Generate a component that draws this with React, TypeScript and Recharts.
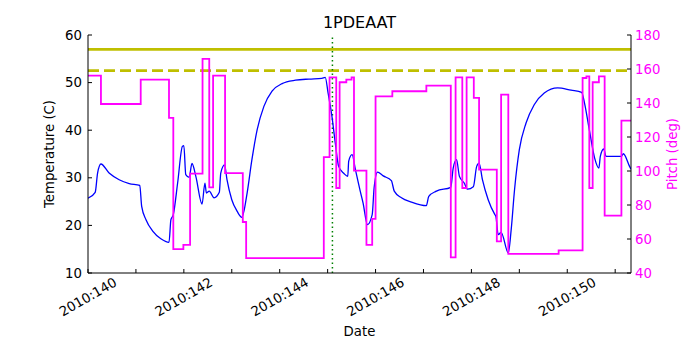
import React from 'react';
import { ComposedChart, Line, XAxis, YAxis, ReferenceLine } from 'recharts';

document.body.style.margin = '0';

// temperature (blue), day of year 2010
const tempDays = [
  140.0, 140.15, 140.2, 140.27, 140.44, 140.65, 140.86, 141.08, 141.12, 141.21, 141.35, 141.52, 141.69,
  141.73, 141.78, 141.87, 141.97, 142.0, 142.04, 142.11, 142.17, 142.25, 142.38, 142.44, 142.47, 142.53,
  142.63, 142.74, 142.77, 142.85, 142.9, 143.0, 143.11, 143.21, 143.32, 143.42, 143.53, 143.67, 143.84,
  144.05, 144.33, 144.61, 144.88, 144.95, 145.01, 145.09, 145.16, 145.23, 145.34, 145.42, 145.44, 145.51,
  145.58, 145.68, 145.74, 145.83, 145.93, 145.97, 146.04, 146.16, 146.33, 146.39, 146.54, 146.75, 147.06,
  147.11, 147.27, 147.57, 147.62, 147.69, 147.75, 147.85, 147.92, 148.04, 148.11, 148.16, 148.23, 148.35,
  148.49, 148.51, 148.56, 148.62, 148.77, 148.83, 148.9, 149.0, 149.14, 149.31, 149.52, 149.8, 150.08,
  150.3, 150.36, 150.46, 150.57, 150.66, 150.69, 150.76, 150.81, 151.13, 151.17, 151.3, 151.33,
];
const tempValues = [
  25.7, 26.95, 31.0, 32.9, 31.0, 29.6, 28.8, 28.4, 24.0, 21.2, 18.8, 17.2, 16.45,
  21.2, 22.25, 28.9, 36.6, 36.75, 30.65, 30.1, 33.0, 30.3, 24.5, 28.9, 26.8, 27.2,
  25.8, 26.95, 31.0, 32.7, 29.6, 25.4, 23.0, 21.7, 26.8, 33.8, 40.1, 45.0, 48.2,
  49.8, 50.5, 50.75, 50.9, 51.1, 47.8, 42.9, 37.3, 32.4, 30.9, 30.3, 33.5, 34.85,
  31.7, 27.2, 24.7, 20.15, 22.25, 27.9, 31.2, 30.4, 29.4, 27.2, 25.8, 24.9, 24.15,
  26.1, 27.2, 28.0, 32.05, 33.8, 30.3, 28.9, 27.6, 28.1, 32.4, 33.1, 29.6, 25.4,
  22.25, 21.9, 18.05, 18.55, 14.2, 19.1, 27.5, 35.9, 41.5, 45.35, 47.8, 48.9, 48.4,
  47.95, 45.7, 40.1, 34.2, 32.05, 34.5, 36.05, 34.5, 34.5, 35.05, 32.4, 31.8,
];

// pitch (magenta), stepped
const pitchDays = [
  140.0, 140.27, 141.1, 141.69, 141.78, 141.99, 142.13, 142.39, 142.53, 142.61, 142.86, 143.23, 143.3,
  144.92, 145.04, 145.18, 145.25, 145.39, 145.5, 145.55, 145.81, 145.93, 146.0, 146.35, 147.06, 147.57,
  147.67, 147.81, 147.9, 148.05, 148.16, 148.53, 148.62, 148.77, 149.82, 150.32, 150.4, 150.46, 150.53,
  150.66, 150.78, 151.13, 151.33,
];
const pitchValues = [
  156.1, 139.4, 153.7, 131.2, 54.1, 56.6, 98.4, 165.9, 90.4, 156.1, 98.8, 70, 48.8,
  108.2, 155.1, 90, 152.2, 153.7, 155.1, 100.2, 56.5, 71.8, 143.9, 146.9, 150.2, 49.2,
  155.1, 90, 155.1, 143, 100.8, 58.6, 144.9, 51.2, 53.3, 154.7, 155.7, 90, 152.2,
  155.7, 73.7, 129.6, 129.6,
];

const dayTicks = [140, 141, 142, 143, 144, 145, 146, 147, 148, 149, 150, 151];
const tempTicks = [10, 20, 30, 40, 50, 60];
const pitchTicks = [40, 60, 80, 100, 120, 140, 160, 180];

const tempData = tempDays.map((d, i) => ({ day: d, t: tempValues[i] }));
const pitchData = pitchDays.map((d, i) => ({ day: d, p: pitchValues[i] }));

const font = '"DejaVu Sans", sans-serif';
const fs = 13.3;

const LeftTick = ({ x, y, payload }: any) => (
  <g>
    <line x1={x} x2={x + 4} y1={y} y2={y} stroke="#000" />
    <text x={x - 6} y={y} textAnchor="end" dominantBaseline="central" fontSize={fs} fontFamily={font} fill="#000">
      {payload.value}
    </text>
  </g>
);

const RightTick = ({ x, y, payload }: any) => (
  <g>
    <line x1={x - 4} x2={x} y1={y} y2={y} stroke="#000" />
    <text x={x + 4} y={y} textAnchor="start" dominantBaseline="central" fontSize={fs} fontFamily={font} fill="#ff00ff">
      {payload.value}
    </text>
  </g>
);

const BottomTick = ({ x, y, payload }: any) => (
  <g>
    <line x1={x} x2={x} y1={y - 4} y2={y} stroke="#000" />
    {payload.value % 2 === 0 && (
      <text
        transform={`translate(${x},${y + 24}) rotate(-30)`}
        textAnchor="middle"
        dominantBaseline="central"
        fontSize={fs}
        fontFamily={font}
        fill="#000"
      >
        {'2010:' + payload.value}
      </text>
    )}
  </g>
);

const TopTick = ({ x, y }: any) => <line x1={x} x2={x} y1={y} y2={y + 4} stroke="#000" />;

const label = (left: number, top: number, text: string, extra: React.CSSProperties = {}) => (
  <div
    style={{
      position: 'absolute',
      left,
      top,
      transform: 'translate(-50%, -50%)',
      whiteSpace: 'nowrap',
      fontFamily: font,
      fontSize: fs,
      color: '#000',
      ...extra,
    }}
  >
    {text}
  </div>
);

export default function App() {
  return (
    <div style={{ position: 'relative', width: 700, height: 350, background: '#fff' }}>
      <ComposedChart width={700} height={350} margin={{ top: 35, right: 0, bottom: 0, left: 0 }}>
        <XAxis
          dataKey="day"
          type="number"
          domain={[140, 151.33]}
          allowDataOverflow
          ticks={dayTicks}
          interval={0}
          height={77}
          tickSize={0}
          tickMargin={0}
          tickLine={false}
          axisLine={{ stroke: '#000' }}
          tick={<BottomTick />}
        />
        <XAxis
          xAxisId="top"
          orientation="top"
          dataKey="day"
          type="number"
          domain={[140, 151.33]}
          allowDataOverflow
          ticks={dayTicks}
          interval={0}
          height={0}
          tickSize={0}
          tickMargin={0}
          tickLine={false}
          axisLine={{ stroke: '#000' }}
          tick={<TopTick />}
        />
        <YAxis
          yAxisId="temp"
          domain={[10, 60]}
          ticks={tempTicks}
          interval={0}
          width={88}
          tickSize={0}
          tickMargin={0}
          tickLine={false}
          axisLine={{ stroke: '#000' }}
          tick={<LeftTick />}
        />
        <YAxis
          yAxisId="pitch"
          orientation="right"
          domain={[40, 180]}
          ticks={pitchTicks}
          interval={0}
          width={69}
          tickSize={0}
          tickMargin={0}
          tickLine={false}
          axisLine={{ stroke: '#000' }}
          tick={<RightTick />}
        />
        <ReferenceLine yAxisId="temp" y={57} stroke="#bfbf00" strokeWidth={2.7} />
        <ReferenceLine yAxisId="temp" y={52.5} stroke="#bfbf00" strokeWidth={2.7} strokeDasharray="11 5" />
        <ReferenceLine yAxisId="temp" x={145.1} stroke="#008000" strokeWidth={1.5} strokeDasharray="1.5 3" />
        <Line
          yAxisId="temp"
          data={tempData}
          dataKey="t"
          type="monotoneX"
          stroke="#0000ff"
          strokeWidth={1.3}
          dot={false}
          isAnimationActive={false}
        />
        <Line
          yAxisId="pitch"
          data={pitchData}
          dataKey="p"
          type="stepAfter"
          stroke="#ff00ff"
          strokeWidth={1.8}
          dot={false}
          isAnimationActive={false}
        />
      </ComposedChart>
      {label(359.5, 22, '1PDEAAT', { fontSize: 16 })}
      {label(49.3, 154, 'Temperature (C)', { transform: 'translate(-50%, -50%) rotate(-90deg)' })}
      {label(671.7, 154, 'Pitch (deg)', { transform: 'translate(-50%, -50%) rotate(-90deg)', color: '#ff00ff' })}
      {label(359.5, 331, 'Date')}
    </div>
  );
}
